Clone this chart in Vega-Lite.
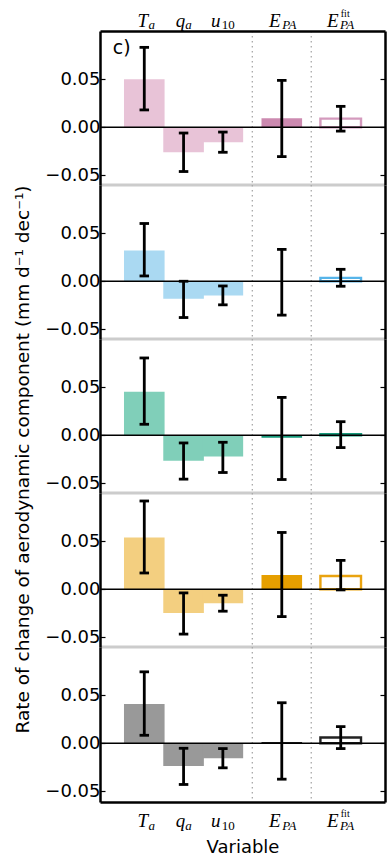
{
"$schema": "https://vega.github.io/schema/vega-lite/v6.json",
"padding": {"left": 12, "top": 8, "right": 0, "bottom": 0},
"config": {"font": "DejaVu Sans", "view": {"stroke": null}},
"spacing": 0,
"bounds": "flush",
"datasets": {"bars": [
{"panel":1,"var":"Ta","pos":0,"value":0.050,"lo":0.018,"hi":0.083,"kind":"component"},
{"panel":1,"var":"qa","pos":1,"value":-0.026,"lo":-0.046,"hi":-0.006,"kind":"component"},
{"panel":1,"var":"u10","pos":2,"value":-0.0155,"lo":-0.026,"hi":-0.005,"kind":"component"},
{"panel":1,"var":"EPA","pos":3.5,"value":0.0093,"lo":-0.0305,"hi":0.0487,"kind":"total"},
{"panel":1,"var":"EPAfit","pos":5,"value":0.009,"lo":-0.004,"hi":0.0217,"kind":"fit"},
{"panel":2,"var":"Ta","pos":0,"value":0.032,"lo":0.0055,"hi":0.060,"kind":"component"},
{"panel":2,"var":"qa","pos":1,"value":-0.0183,"lo":-0.0377,"hi":0.0,"kind":"component"},
{"panel":2,"var":"u10","pos":2,"value":-0.0149,"lo":-0.0245,"hi":-0.0049,"kind":"component"},
{"panel":2,"var":"EPA","pos":3.5,"value":0.0003,"lo":-0.0352,"hi":0.0331,"kind":"total"},
{"panel":2,"var":"EPAfit","pos":5,"value":0.0035,"lo":-0.0052,"hi":0.0124,"kind":"fit"},
{"panel":3,"var":"Ta","pos":0,"value":0.0451,"lo":0.0114,"hi":0.0803,"kind":"component"},
{"panel":3,"var":"qa","pos":1,"value":-0.0266,"lo":-0.0456,"hi":-0.008,"kind":"component"},
{"panel":3,"var":"u10","pos":2,"value":-0.0221,"lo":-0.0387,"hi":-0.0073,"kind":"component"},
{"panel":3,"var":"EPA","pos":3.5,"value":-0.0025,"lo":-0.046,"hi":0.0393,"kind":"total"},
{"panel":3,"var":"EPAfit","pos":5,"value":0.0012,"lo":-0.0128,"hi":0.0141,"kind":"fit"},
{"panel":4,"var":"Ta","pos":0,"value":0.0538,"lo":0.0169,"hi":0.0917,"kind":"component"},
{"panel":4,"var":"qa","pos":1,"value":-0.0248,"lo":-0.0466,"hi":-0.0038,"kind":"component"},
{"panel":4,"var":"u10","pos":2,"value":-0.0145,"lo":-0.0228,"hi":-0.0062,"kind":"component"},
{"panel":4,"var":"EPA","pos":3.5,"value":0.0148,"lo":-0.0284,"hi":0.059,"kind":"total"},
{"panel":4,"var":"EPAfit","pos":5,"value":0.0138,"lo":-0.0007,"hi":0.030,"kind":"fit"},
{"panel":5,"var":"Ta","pos":0,"value":0.0407,"lo":0.0083,"hi":0.0742,"kind":"component"},
{"panel":5,"var":"qa","pos":1,"value":-0.0235,"lo":-0.0428,"hi":-0.0052,"kind":"component"},
{"panel":5,"var":"u10","pos":2,"value":-0.0155,"lo":-0.0255,"hi":-0.0055,"kind":"component"},
{"panel":5,"var":"EPA","pos":3.5,"value":0.0013,"lo":-0.0373,"hi":0.0421,"kind":"total"},
{"panel":5,"var":"EPAfit","pos":5,"value":0.006,"lo":-0.0055,"hi":0.0173,"kind":"fit"}
]},
"vconcat": [
{
"width": 285, "height": 154,
"layer": [
{"data":{"values":[{}]},"mark":{"type":"rule","color":"#a8a8a8","strokeWidth":1.3,"strokeDash":[1.5,3.5]},"encoding":{"x":{"datum":2.75,"type":"quantitative","scale":{"domain":[-1,6],"nice":false,"zero":false},"axis":null}}},
{"data":{"values":[{}]},"mark":{"type":"rule","color":"#a8a8a8","strokeWidth":1.3,"strokeDash":[1.5,3.5]},"encoding":{"x":{"datum":4.25,"type":"quantitative","axis":null}}},
{"data":{"name":"bars"},"transform":[{"filter":"datum.panel == 1 && datum.kind != 'fit'"}],"mark":{"type":"bar","orient":"vertical","width":40.6},
 "encoding":{
  "x":{"field":"pos","type":"quantitative","scale":{"domain":[-1,6],"nice":false,"zero":false},"axis":{"orient":"top","values":[0,1,2,3.5,5],"labelExpr":"datum.value == 0 ? 'T' : datum.value == 1 ? 'q' : datum.value == 2 ? 'u' : 'E'","labelFont":"Liberation Serif","labelFontStyle":"italic","labelFontSize":19,"labelBaseline":"alphabetic","labelPadding":5,"labelOffset":{"expr":"datum.value == 0 ? -2 : datum.value == 1 ? -3.5 : datum.value == 2 ? -7.5 : datum.value == 3.5 ? -7.5 : -8.5"},"ticks":false,"domainColor":"black","domainWidth":2.5,"grid":false,"title":null,"labelColor":"black","labelFlush":false,"labelOverlap":false,"labelBound":false,"zindex":1}},
  "y":{"field":"value","type":"quantitative","stack":null,"scale":{"domain":[-0.06,0.1],"nice":false,"zero":false},"axis":{"orient":"left","values":[-0.05,0,0.05],"format":".2f","labelFontSize":18,"labelColor":"black","labelPadding":5,"tickSize":-5,"tickColor":"black","tickWidth":1.2,"domainColor":"black","domainWidth":2.5,"grid":false,"title":null,"zindex":1}},
  "color":{"field":"kind","type":"nominal","scale":{"domain":["component","total","fit"],"range":["#E8C3D7","#CC8AB0","#D49ABD"]},"legend":null}}},
{"data":{"name":"bars"},"transform":[{"filter":"datum.panel == 1 && datum.kind == 'fit'"}],"mark":{"type":"bar","orient":"vertical","width":40.6,"filled":false,"fill":"white","strokeWidth":2.4},
 "encoding":{
  "x":{"field":"pos","type":"quantitative","axis":{"orient":"top","values":[0,1,2,3.5,5],"labelExpr":"datum.value == 2 ? '10' : datum.value < 2 ? 'a' : 'PA'","labelFont":"Liberation Serif","labelFontStyle":{"condition":{"test":"datum.value == 2","value":"normal"},"value":"italic"},"labelFontSize":13,"labelBaseline":"alphabetic","labelPadding":2.5,"labelOffset":{"expr":"datum.value == 0 ? 7 : datum.value == 1 ? 4.5 : datum.value == 2 ? 5 : datum.value == 3.5 ? 7 : 6"},"ticks":false,"domain":false,"grid":false,"title":null,"labelColor":"black","labelFlush":false,"labelOverlap":false,"labelBound":false}},
  "y":{"field":"value","type":"quantitative","stack":null,"axis":null},
  "color":{"field":"kind","type":"nominal","legend":null}}},
{"data":{"values":[{}]},"mark":{"type":"rule","color":"black","strokeWidth":1.4},"encoding":{"y":{"datum":0,"type":"quantitative","axis":null}}},
{"data":{"values":[{}]},"mark":{"type":"rule","color":"#cccccc","strokeWidth":3},"encoding":{"y":{"datum":-0.06,"type":"quantitative","axis":null}}},
{"data":{"name":"bars"},"transform":[{"filter":"datum.panel == 1"}],"mark":{"type":"rule","color":"black","strokeWidth":2.8},
 "encoding":{
  "x":{"field":"pos","type":"quantitative","axis":{"orient":"top","values":[5],"labelExpr":"datum.value == 5 ? 'fit' : ''","labelFont":"Liberation Serif","labelFontSize":10,"labelBaseline":"alphabetic","labelPadding":15,"labelOffset":4,"ticks":false,"domain":false,"grid":false,"title":null,"labelColor":"black","labelFlush":false,"labelOverlap":false,"labelBound":false}},
  "y":{"field":"lo","type":"quantitative","axis":{"orient":"right","values":[-0.05,0,0.05],"labels":false,"tickSize":-5,"tickColor":"black","tickWidth":1.2,"domainColor":"black","domainWidth":2.5,"grid":false,"title":null,"zindex":1}},
  "y2":{"field":"hi"}}},
{"data":{"name":"bars"},"transform":[{"filter":"datum.panel == 1"}],"mark":{"type":"tick","orient":"horizontal","color":"black","opacity":1,"size":9.5,"thickness":2.8},"encoding":{"x":{"field":"pos","type":"quantitative","axis":null},"y":{"field":"lo","type":"quantitative","axis":null}}},
{"data":{"name":"bars"},"transform":[{"filter":"datum.panel == 1"}],"mark":{"type":"tick","orient":"horizontal","color":"black","opacity":1,"size":9.5,"thickness":2.8},"encoding":{"x":{"field":"pos","type":"quantitative","axis":null},"y":{"field":"hi","type":"quantitative","axis":null}}},
{"data":{"values":[{}]},"mark":{"type":"text","text":"c)","fontSize":19,"align":"left","baseline":"alphabetic","font":"DejaVu Sans"},"encoding":{"x":{"datum":-0.8,"type":"quantitative","axis":null},"y":{"datum":0.076,"type":"quantitative","axis":null}}}
],
"resolve":{"axis":{"x":"independent","y":"independent"}}
},
{
"width": 285, "height": 154,
"layer": [
{"data":{"values":[{}]},"mark":{"type":"rule","color":"#a8a8a8","strokeWidth":1.3,"strokeDash":[1.5,3.5]},"encoding":{"x":{"datum":2.75,"type":"quantitative","scale":{"domain":[-1,6],"nice":false,"zero":false},"axis":null}}},
{"data":{"values":[{}]},"mark":{"type":"rule","color":"#a8a8a8","strokeWidth":1.3,"strokeDash":[1.5,3.5]},"encoding":{"x":{"datum":4.25,"type":"quantitative","axis":null}}},
{"data":{"name":"bars"},"transform":[{"filter":"datum.panel == 2 && datum.kind != 'fit'"}],"mark":{"type":"bar","orient":"vertical","width":40.6},
 "encoding":{
  "x":{"field":"pos","type":"quantitative","scale":{"domain":[-1,6],"nice":false,"zero":false},"axis":null},
  "y":{"field":"value","type":"quantitative","stack":null,"scale":{"domain":[-0.06,0.1],"nice":false,"zero":false},"axis":{"orient":"left","values":[-0.05,0,0.05],"format":".2f","labelFontSize":18,"labelColor":"black","labelPadding":5,"tickSize":-5,"tickColor":"black","tickWidth":1.2,"domainColor":"black","domainWidth":2.5,"grid":false,"title":null,"zindex":1}},
  "color":{"field":"kind","type":"nominal","scale":{"domain":["component","total","fit"],"range":["#AAD9F2","#56B4E9","#56B4E9"]},"legend":null}}},
{"data":{"name":"bars"},"transform":[{"filter":"datum.panel == 2 && datum.kind == 'fit'"}],"mark":{"type":"bar","orient":"vertical","width":40.6,"filled":false,"fill":"white","strokeWidth":2.4},
 "encoding":{
  "x":{"field":"pos","type":"quantitative","axis":null},
  "y":{"field":"value","type":"quantitative","stack":null,"axis":null},
  "color":{"field":"kind","type":"nominal","legend":null}}},
{"data":{"values":[{}]},"mark":{"type":"rule","color":"black","strokeWidth":1.4},"encoding":{"y":{"datum":0,"type":"quantitative","axis":null}}},
{"data":{"values":[{}]},"mark":{"type":"rule","color":"#cccccc","strokeWidth":3},"encoding":{"y":{"datum":-0.06,"type":"quantitative","axis":null}}},
{"data":{"name":"bars"},"transform":[{"filter":"datum.panel == 2"}],"mark":{"type":"rule","color":"black","strokeWidth":2.8},
 "encoding":{
  "x":{"field":"pos","type":"quantitative","axis":null},
  "y":{"field":"lo","type":"quantitative","axis":{"orient":"right","values":[-0.05,0,0.05],"labels":false,"tickSize":-5,"tickColor":"black","tickWidth":1.2,"domainColor":"black","domainWidth":2.5,"grid":false,"title":null,"zindex":1}},
  "y2":{"field":"hi"}}},
{"data":{"name":"bars"},"transform":[{"filter":"datum.panel == 2"}],"mark":{"type":"tick","orient":"horizontal","color":"black","opacity":1,"size":9.5,"thickness":2.8},"encoding":{"x":{"field":"pos","type":"quantitative","axis":null},"y":{"field":"lo","type":"quantitative","axis":null}}},
{"data":{"name":"bars"},"transform":[{"filter":"datum.panel == 2"}],"mark":{"type":"tick","orient":"horizontal","color":"black","opacity":1,"size":9.5,"thickness":2.8},"encoding":{"x":{"field":"pos","type":"quantitative","axis":null},"y":{"field":"hi","type":"quantitative","axis":null}}}
],
"resolve":{"axis":{"x":"independent","y":"independent"}}
},
{
"width": 285, "height": 154,
"layer": [
{"data":{"values":[{}]},"mark":{"type":"rule","color":"#a8a8a8","strokeWidth":1.3,"strokeDash":[1.5,3.5]},"encoding":{"x":{"datum":2.75,"type":"quantitative","scale":{"domain":[-1,6],"nice":false,"zero":false},"axis":null}}},
{"data":{"values":[{}]},"mark":{"type":"rule","color":"#a8a8a8","strokeWidth":1.3,"strokeDash":[1.5,3.5]},"encoding":{"x":{"datum":4.25,"type":"quantitative","axis":null}}},
{"data":{"name":"bars"},"transform":[{"filter":"datum.panel == 3 && datum.kind != 'fit'"}],"mark":{"type":"bar","orient":"vertical","width":40.6},
 "encoding":{
  "x":{"field":"pos","type":"quantitative","scale":{"domain":[-1,6],"nice":false,"zero":false},"axis":null},
  "y":{"field":"value","type":"quantitative","stack":null,"scale":{"domain":[-0.06,0.1],"nice":false,"zero":false},"axis":{"orient":"left","values":[-0.05,0,0.05],"format":".2f","labelFontSize":18,"labelColor":"black","labelPadding":5,"tickSize":-5,"tickColor":"black","tickWidth":1.2,"domainColor":"black","domainWidth":2.5,"grid":false,"title":"Rate of change of aerodynamic component (mm d⁻¹ dec⁻¹)","titleFontSize":18.5,"titleFontWeight":"normal","titleColor":"black","titleBaseline":"alphabetic","titleX":-72,"titleY":120,"zindex":1}},
  "color":{"field":"kind","type":"nominal","scale":{"domain":["component","total","fit"],"range":["#80CFB9","#16997A","#16997A"]},"legend":null}}},
{"data":{"name":"bars"},"transform":[{"filter":"datum.panel == 3 && datum.kind == 'fit'"}],"mark":{"type":"bar","orient":"vertical","width":40.6,"filled":false,"fill":"white","strokeWidth":2.4},
 "encoding":{
  "x":{"field":"pos","type":"quantitative","axis":null},
  "y":{"field":"value","type":"quantitative","stack":null,"axis":null},
  "color":{"field":"kind","type":"nominal","legend":null}}},
{"data":{"values":[{}]},"mark":{"type":"rule","color":"black","strokeWidth":1.4},"encoding":{"y":{"datum":0,"type":"quantitative","axis":null}}},
{"data":{"values":[{}]},"mark":{"type":"rule","color":"#cccccc","strokeWidth":3},"encoding":{"y":{"datum":-0.06,"type":"quantitative","axis":null}}},
{"data":{"name":"bars"},"transform":[{"filter":"datum.panel == 3"}],"mark":{"type":"rule","color":"black","strokeWidth":2.8},
 "encoding":{
  "x":{"field":"pos","type":"quantitative","axis":null},
  "y":{"field":"lo","type":"quantitative","axis":{"orient":"right","values":[-0.05,0,0.05],"labels":false,"tickSize":-5,"tickColor":"black","tickWidth":1.2,"domainColor":"black","domainWidth":2.5,"grid":false,"title":null,"zindex":1}},
  "y2":{"field":"hi"}}},
{"data":{"name":"bars"},"transform":[{"filter":"datum.panel == 3"}],"mark":{"type":"tick","orient":"horizontal","color":"black","opacity":1,"size":9.5,"thickness":2.8},"encoding":{"x":{"field":"pos","type":"quantitative","axis":null},"y":{"field":"lo","type":"quantitative","axis":null}}},
{"data":{"name":"bars"},"transform":[{"filter":"datum.panel == 3"}],"mark":{"type":"tick","orient":"horizontal","color":"black","opacity":1,"size":9.5,"thickness":2.8},"encoding":{"x":{"field":"pos","type":"quantitative","axis":null},"y":{"field":"hi","type":"quantitative","axis":null}}}
],
"resolve":{"axis":{"x":"independent","y":"independent"}}
},
{
"width": 285, "height": 154,
"layer": [
{"data":{"values":[{}]},"mark":{"type":"rule","color":"#a8a8a8","strokeWidth":1.3,"strokeDash":[1.5,3.5]},"encoding":{"x":{"datum":2.75,"type":"quantitative","scale":{"domain":[-1,6],"nice":false,"zero":false},"axis":null}}},
{"data":{"values":[{}]},"mark":{"type":"rule","color":"#a8a8a8","strokeWidth":1.3,"strokeDash":[1.5,3.5]},"encoding":{"x":{"datum":4.25,"type":"quantitative","axis":null}}},
{"data":{"name":"bars"},"transform":[{"filter":"datum.panel == 4 && datum.kind != 'fit'"}],"mark":{"type":"bar","orient":"vertical","width":40.6},
 "encoding":{
  "x":{"field":"pos","type":"quantitative","scale":{"domain":[-1,6],"nice":false,"zero":false},"axis":null},
  "y":{"field":"value","type":"quantitative","stack":null,"scale":{"domain":[-0.06,0.1],"nice":false,"zero":false},"axis":{"orient":"left","values":[-0.05,0,0.05],"format":".2f","labelFontSize":18,"labelColor":"black","labelPadding":5,"tickSize":-5,"tickColor":"black","tickWidth":1.2,"domainColor":"black","domainWidth":2.5,"grid":false,"title":null,"zindex":1}},
  "color":{"field":"kind","type":"nominal","scale":{"domain":["component","total","fit"],"range":["#F3CF80","#E69F00","#E9A310"]},"legend":null}}},
{"data":{"name":"bars"},"transform":[{"filter":"datum.panel == 4 && datum.kind == 'fit'"}],"mark":{"type":"bar","orient":"vertical","width":40.6,"filled":false,"fill":"white","strokeWidth":2.4},
 "encoding":{
  "x":{"field":"pos","type":"quantitative","axis":null},
  "y":{"field":"value","type":"quantitative","stack":null,"axis":null},
  "color":{"field":"kind","type":"nominal","legend":null}}},
{"data":{"values":[{}]},"mark":{"type":"rule","color":"black","strokeWidth":1.4},"encoding":{"y":{"datum":0,"type":"quantitative","axis":null}}},
{"data":{"values":[{}]},"mark":{"type":"rule","color":"#cccccc","strokeWidth":3},"encoding":{"y":{"datum":-0.06,"type":"quantitative","axis":null}}},
{"data":{"name":"bars"},"transform":[{"filter":"datum.panel == 4"}],"mark":{"type":"rule","color":"black","strokeWidth":2.8},
 "encoding":{
  "x":{"field":"pos","type":"quantitative","axis":null},
  "y":{"field":"lo","type":"quantitative","axis":{"orient":"right","values":[-0.05,0,0.05],"labels":false,"tickSize":-5,"tickColor":"black","tickWidth":1.2,"domainColor":"black","domainWidth":2.5,"grid":false,"title":null,"zindex":1}},
  "y2":{"field":"hi"}}},
{"data":{"name":"bars"},"transform":[{"filter":"datum.panel == 4"}],"mark":{"type":"tick","orient":"horizontal","color":"black","opacity":1,"size":9.5,"thickness":2.8},"encoding":{"x":{"field":"pos","type":"quantitative","axis":null},"y":{"field":"lo","type":"quantitative","axis":null}}},
{"data":{"name":"bars"},"transform":[{"filter":"datum.panel == 4"}],"mark":{"type":"tick","orient":"horizontal","color":"black","opacity":1,"size":9.5,"thickness":2.8},"encoding":{"x":{"field":"pos","type":"quantitative","axis":null},"y":{"field":"hi","type":"quantitative","axis":null}}}
],
"resolve":{"axis":{"x":"independent","y":"independent"}}
},
{
"width": 285, "height": 155,
"layer": [
{"data":{"values":[{}]},"mark":{"type":"rule","color":"#a8a8a8","strokeWidth":1.3,"strokeDash":[1.5,3.5]},"encoding":{"x":{"datum":2.75,"type":"quantitative","scale":{"domain":[-1,6],"nice":false,"zero":false},"axis":null}}},
{"data":{"values":[{}]},"mark":{"type":"rule","color":"#a8a8a8","strokeWidth":1.3,"strokeDash":[1.5,3.5]},"encoding":{"x":{"datum":4.25,"type":"quantitative","axis":null}}},
{"data":{"name":"bars"},"transform":[{"filter":"datum.panel == 5 && datum.kind != 'fit'"}],"mark":{"type":"bar","orient":"vertical","width":40.6},
 "encoding":{
  "x":{"field":"pos","type":"quantitative","scale":{"domain":[-1,6],"nice":false,"zero":false},"axis":{"orient":"bottom","values":[0,1,2,3.5,5],"labelExpr":"datum.value == 0 ? 'T' : datum.value == 1 ? 'q' : datum.value == 2 ? 'u' : 'E'","labelFont":"Liberation Serif","labelFontStyle":"italic","labelFontSize":19,"labelBaseline":"alphabetic","labelPadding":24,"labelOffset":{"expr":"datum.value == 0 ? -2 : datum.value == 1 ? -3.5 : datum.value == 2 ? -7.5 : datum.value == 3.5 ? -7.5 : -8.5"},"ticks":false,"domainColor":"black","domainWidth":2.5,"grid":false,"title":"Variable","titleFontSize":18,"titleFontWeight":"normal","titleColor":"black","titleBaseline":"alphabetic","titleY":50,"labelColor":"black","labelFlush":false,"labelOverlap":false,"labelBound":false,"zindex":1}},
  "y":{"field":"value","type":"quantitative","stack":null,"scale":{"domain":[-0.061,0.1],"nice":false,"zero":false},"axis":{"orient":"left","values":[-0.05,0,0.05],"format":".2f","labelFontSize":18,"labelColor":"black","labelPadding":5,"tickSize":-5,"tickColor":"black","tickWidth":1.2,"domainColor":"black","domainWidth":2.5,"grid":false,"title":null,"zindex":1}},
  "color":{"field":"kind","type":"nominal","scale":{"domain":["component","total","fit"],"range":["#999999","#222222","#222222"]},"legend":null}}},
{"data":{"name":"bars"},"transform":[{"filter":"datum.panel == 5 && datum.kind == 'fit'"}],"mark":{"type":"bar","orient":"vertical","width":40.6,"filled":false,"fill":"white","strokeWidth":2.4},
 "encoding":{
  "x":{"field":"pos","type":"quantitative","axis":{"orient":"bottom","values":[0,1,2,3.5,5],"labelExpr":"datum.value == 2 ? '10' : datum.value < 2 ? 'a' : 'PA'","labelFont":"Liberation Serif","labelFontStyle":{"condition":{"test":"datum.value == 2","value":"normal"},"value":"italic"},"labelFontSize":13,"labelBaseline":"alphabetic","labelPadding":27,"labelOffset":{"expr":"datum.value == 0 ? 7 : datum.value == 1 ? 4.5 : datum.value == 2 ? 5 : datum.value == 3.5 ? 7 : 6"},"ticks":false,"domain":false,"grid":false,"title":null,"labelColor":"black","labelFlush":false,"labelOverlap":false,"labelBound":false}},
  "y":{"field":"value","type":"quantitative","stack":null,"axis":null},
  "color":{"field":"kind","type":"nominal","legend":null}}},
{"data":{"values":[{}]},"mark":{"type":"rule","color":"black","strokeWidth":1.4},"encoding":{"y":{"datum":0,"type":"quantitative","axis":null}}},
{"data":{"name":"bars"},"transform":[{"filter":"datum.panel == 5"}],"mark":{"type":"rule","color":"black","strokeWidth":2.8},
 "encoding":{
  "x":{"field":"pos","type":"quantitative","axis":{"orient":"bottom","values":[5],"labelExpr":"datum.value == 5 ? 'fit' : ''","labelFont":"Liberation Serif","labelFontSize":10,"labelBaseline":"alphabetic","labelPadding":14,"labelOffset":4,"ticks":false,"domain":false,"grid":false,"title":null,"labelColor":"black","labelFlush":false,"labelOverlap":false,"labelBound":false}},
  "y":{"field":"lo","type":"quantitative","axis":{"orient":"right","values":[-0.05,0,0.05],"labels":false,"tickSize":-5,"tickColor":"black","tickWidth":1.2,"domainColor":"black","domainWidth":2.5,"grid":false,"title":null,"zindex":1}},
  "y2":{"field":"hi"}}},
{"data":{"name":"bars"},"transform":[{"filter":"datum.panel == 5"}],"mark":{"type":"tick","orient":"horizontal","color":"black","opacity":1,"size":9.5,"thickness":2.8},"encoding":{"x":{"field":"pos","type":"quantitative","axis":null},"y":{"field":"lo","type":"quantitative","axis":null}}},
{"data":{"name":"bars"},"transform":[{"filter":"datum.panel == 5"}],"mark":{"type":"tick","orient":"horizontal","color":"black","opacity":1,"size":9.5,"thickness":2.8},"encoding":{"x":{"field":"pos","type":"quantitative","axis":null},"y":{"field":"hi","type":"quantitative","axis":null}}}
],
"resolve":{"axis":{"x":"independent","y":"independent"}}
}
],
"resolve": {"scale": {"color": "independent"}}
}
